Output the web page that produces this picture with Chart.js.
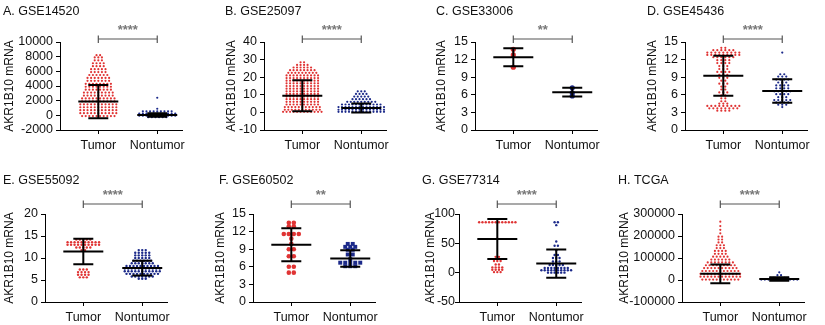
<!DOCTYPE html>
<html>
<head>
<meta charset="utf-8">
<script src="https://cdn.jsdelivr.net/npm/chart.js@4.4.0/dist/chart.umd.min.js"></script>
<style>
html, body { margin: 0; padding: 0; background: #fff; }
#fig { position: relative; width: 825px; height: 325px; overflow: hidden; }
#fig canvas { position: absolute; }
</style>
</head>
<body>
<div id="fig"></div>
<script>
// ---- data ----
const panelTitles = ["A. GSE14520", "B. GSE25097", "C. GSE33006", "D. GSE45436",
                     "E. GSE55092", "F. GSE60502", "G. GSE77314", "H. TCGA"];
const groupNames = ["Tumor", "Nontumor"];
const yAxisLabel = "AKR1B10 mRNA";
const yTickValues = [
    [-2000, 0, 2000, 4000, 6000, 8000, 10000],
    [-10, 0, 10, 20, 30, 40],
    [0, 3, 6, 9, 12, 15],
    [0, 3, 6, 9, 12, 15],
    [0, 5, 10, 15, 20],
    [0, 3, 6, 9, 12, 15],
    [-50, 0, 50, 100],
    [-100000, 0, 100000, 200000, 300000],
];
const significance = ["****", "****", "**", "****", "****", "**", "****", "****"];

// each row: [value, number of samples in that row of the dot plot]
const gse14520Tumor = [[8200,2],[7900,3],[7500,3],[7100,4],[6700,4],[6300,5],[5900,5],[5500,6],[5100,7],
    [4700,7],[4300,8],[3900,8],[3500,8],[3100,9],[2700,9],[2300,10],[1900,10],[1500,11],[1100,11],
    [700,11],[300,11],[-100,10]];
const gse14520Normal = [[2400,1],[900,1],[550,9],[250,11],[-50,11],[-250,6]];
const gse25097Tumor = [[28.5,2],[27,4],[25.5,6],[24,8],[22.5,9],[21,10],[19.5,10],[18,10],[16.5,10],
    [15,10],[13.5,10],[12,10],[10.5,10],[9,10],[7.5,10],[6,10],[4.5,10],[3,11],[1.5,11],[0.3,12]];
const gse25097Normal = [[12,3],[10.5,4],[9,5],[7.5,6],[6,9],[4.5,12],[3,14],[1.5,14],[0.3,14]];
const gse33006Tumor = [[13.75,1],[12.8,1],[10.7,1]];
const gse33006Normal = [[7.2,1],[6.35,1],[5.8,1]];
const gse45436Tumor = [[14,2],[13.6,6],[13.2,9],[12.8,9],[12.4,6],[11.9,4],[11.4,4],[10.9,3],[10.4,3],
    [9.9,4],[9.4,3],[8.9,3],[8.4,2],[7.9,3],[7.4,2],[6.9,2],[6.4,3],[5.9,2],[5.4,2],[4.9,2],[4.5,3],
    [4.1,9],[3.7,8],[3.3,4]];
const gse45436Normal = [[13.2,1],[9.5,2],[9.1,3],[8.6,4],[8.1,3],[7.6,4],[7.1,4],[6.6,5],[6.1,4],[5.6,3],
    [5.1,5],[4.7,4],[4.3,3],[3.9,1]];
const gse55092Tumor = [[14.2,5],[13.6,10],[13,10],[12.4,5],[11.8,2],[7.4,3],[6.8,4],[6.2,4],[5.6,3]];
const gse55092Normal = [[11.8,3],[11.2,5],[10.6,5],[10,5],[9.4,6],[8.8,7],[8.2,10],[7.6,11],[7,11],
    [6.4,10],[5.8,7],[5.3,3]];
const gse60502Tumor = [[13.5,2],[12.9,2],[11.6,4],[10.8,1],[9.9,1],[9,2],[7.8,2],[6,2],[5,2]];
const gse60502Normal = [[9.9,2],[9.4,3],[8.9,2],[8.1,2],[7.3,1],[6.7,5],[6.1,3]];
const gse77314Tumor = [[86,12],[58,1],[27,2],[20,3],[14,2],[9,4],[5,4],[1,3]];
const gse77314Normal = [[86,2],[81,1],[53,1],[46,2],[38,1],[30,2],[25,3],[19,3],[13,5],[8,8],[4,10],[0,6]];
const tcgaTumor = [[265000,1],[245000,1],[228000,1],[212000,1],[197000,2],[184000,2],[171000,2],
    [158000,3],[145000,3],[132000,4],[119000,4],[106000,5],[93000,6],[80000,8],[67000,9],[54000,10],
    [41000,11],[28000,12],[15000,12],[2000,11]];
const tcgaNormal = [[35000,1],[22000,2],[10000,6],[2000,11]];

const tumorRows = [gse14520Tumor, gse25097Tumor, gse33006Tumor, gse45436Tumor,
                   gse55092Tumor, gse60502Tumor, gse77314Tumor, tcgaTumor];
const normalRows = [gse14520Normal, gse25097Normal, gse33006Normal, gse45436Normal,
                    gse55092Normal, gse60502Normal, gse77314Normal, tcgaNormal];
const tumorMean = [1880, 9.5, 12.4, 9.25, 11.5, 9.75, 57.5, 28000];
const tumorSD = [2270, 8.8, 1.55, 3.4, 2.9, 2.8, 34, 43000];
const normalMean = [50, 2.5, 6.45, 6.65, 7.7, 7.4, 15.5, 5000];
const normalSD = [250, 2.6, 0.75, 2.0, 1.7, 1.4, 24, 8000];

// ---- layout (pixels) ----
const panelBox = [
    { left: 0,   top: 0,   axisX: 60,  yTitleX: 10,  titleX: 3,   tickPad: 3 },
    { left: 205, top: 0,   axisX: 264, yTitleX: 232, titleX: 225, tickPad: 3 },
    { left: 410, top: 0,   axisX: 475, yTitleX: 442, titleX: 436, tickPad: 3 },
    { left: 615, top: 0,   axisX: 685, yTitleX: 653, titleX: 647, tickPad: 3 },
    { left: 0,   top: 160, axisX: 45,  yTitleX: 10,  titleX: 3,   tickPad: 3 },
    { left: 205, top: 160, axisX: 253, yTitleX: 221, titleX: 219, tickPad: 3 },
    { left: 410, top: 160, axisX: 459, yTitleX: 431, titleX: 422, tickPad: 0 },
    { left: 615, top: 160, axisX: 682, yTitleX: 625, titleX: 618, tickPad: 3 },
];
const markStyle = [
    { r: 1.1, gap: 3.6 }, { r: 1.1, gap: 3.5 }, { r: 2.6, gap: 6 }, { r: 1.1, gap: 4 },
    { r: 1.2, gap: 3.5 }, { r: 2.3, gap: 5, normalShape: 'rect', normalR: 2.8 },
    { r: 1.2, gap: 3.3 }, { r: 1.1, gap: 3.6 },
];

const FONT = "'Liberation Sans', Arial, sans-serif";
const RED = '#e03434', BLUE = '#1c2a8a';
const X_MIN = 0.35, X_MAX = 2.42, PLOT_W = 122, PLOT_H = 88, PAD_R = 20;
const UNIT_PX = PLOT_W / (X_MAX - X_MIN);

function swarm(rows, centre, gapPx) {
    const pts = [];
    rows.forEach(([v, n]) => {
        for (let i = 0; i < n; i++) {
            pts.push({ x: centre + (i - (n - 1) / 2) * gapPx / UNIT_PX, y: v });
        }
    });
    return pts;
}

// mean/SD bars, significance bracket and panel title
const decor = {
    id: 'decor',
    afterDatasetsDraw(chart, args, o) {
        const { ctx, chartArea: a, scales: { x, y } } = chart;
        ctx.save();
        ctx.strokeStyle = '#000';
        ctx.lineWidth = 2;
        [[o.mean[0], o.sd[0]], [o.mean[1], o.sd[1]]].forEach(([m, s], g) => {
            const cx = x.getPixelForValue(g + 1);
            const ym = y.getPixelForValue(m);
            const yt = y.getPixelForValue(m + s);
            const yb = y.getPixelForValue(m - s);
            ctx.beginPath();
            ctx.moveTo(cx - 20, ym); ctx.lineTo(cx + 20, ym);
            ctx.moveTo(cx - 10, yt); ctx.lineTo(cx + 10, yt);
            ctx.moveTo(cx - 10, yb); ctx.lineTo(cx + 10, yb);
            ctx.moveTo(cx, yt); ctx.lineTo(cx, yb);
            ctx.stroke();
        });

        const x1 = x.getPixelForValue(1), x2 = x.getPixelForValue(2);
        const by = a.top + o.bracketDy;
        ctx.strokeStyle = '#555';
        ctx.lineWidth = 1.2;
        ctx.beginPath();
        ctx.moveTo(x1, by); ctx.lineTo(x2, by);
        ctx.moveTo(x1, by - 3.5); ctx.lineTo(x1, by + 4);
        ctx.moveTo(x2, by - 3.5); ctx.lineTo(x2, by + 4);
        ctx.stroke();

        ctx.fillStyle = '#777';
        ctx.font = 'bold 13px ' + FONT;
        ctx.textAlign = 'center';
        ctx.textBaseline = 'middle';
        ctx.fillText(o.stars, (x1 + x2) / 2, a.top + o.starDy);

        ctx.fillStyle = '#111';
        ctx.font = '12.5px ' + FONT;
        ctx.textAlign = 'left';
        ctx.fillText(o.title, o.titleX, o.titleY);
        ctx.restore();
    }
};

const fig = document.getElementById('fig');

panelTitles.forEach((title, i) => {
    const box = panelBox[i];
    const style = markStyle[i];
    const topRow = box.top === 0;
    const rowH = topRow ? 160 : 165;
    const padTop = topRow ? 42 : 54;
    const axisW = box.axisX - box.left;
    const canvas = document.createElement('canvas');
    canvas.width = axisW + PLOT_W + PAD_R;
    canvas.height = rowH;
    canvas.style.left = box.left + 'px';
    canvas.style.top = box.top + 'px';
    fig.appendChild(canvas);

    const ticks = yTickValues[i];
    const tickFont = { family: FONT, size: 12.5 };

    new Chart(canvas, {
        type: 'scatter',
        data: {
            datasets: [
                {
                    label: groupNames[0],
                    data: swarm(tumorRows[i], 1, style.gap),
                    backgroundColor: RED,
                    borderWidth: 0,
                    pointRadius: style.r,
                },
                {
                    label: groupNames[1],
                    data: swarm(normalRows[i], 2, style.gap),
                    backgroundColor: BLUE,
                    borderWidth: 0,
                    pointStyle: style.normalShape || 'circle',
                    pointRadius: style.normalR || style.r,
                },
            ],
        },
        options: {
            responsive: false,
            animation: false,
            layout: { padding: { left: 0, top: padTop, right: PAD_R, bottom: 0 } },
            scales: {
                x: {
                    type: 'linear',
                    min: X_MIN,
                    max: X_MAX,
                    afterBuildTicks: (s) => { s.ticks = [{ value: 1 }, { value: 2 }]; },
                    afterFit: (s) => { s.height = rowH - padTop - PLOT_H; },
                    ticks: {
                        font: tickFont,
                        color: '#111',
                        padding: 4,
                        maxRotation: 0,
                        autoSkip: false,
                        callback: (v) => groupNames[Math.round(v) - 1],
                    },
                    grid: { drawOnChartArea: false, drawTicks: true, tickLength: 4, color: '#000' },
                    border: { display: true, color: '#000', width: 1 },
                },
                y: {
                    type: 'linear',
                    min: ticks[0],
                    max: ticks[ticks.length - 1],
                    afterBuildTicks: (s) => { s.ticks = ticks.map((v) => ({ value: v })); },
                    afterFit: (s) => { s.width = axisW; },
                    ticks: {
                        font: tickFont,
                        color: '#111',
                        padding: box.tickPad,
                        autoSkip: false,
                        callback: (v) => String(v),
                    },
                    grid: { drawOnChartArea: false, drawTicks: true, tickLength: 4, color: '#000' },
                    border: { display: true, color: '#000', width: 1 },
                    title: {
                        display: true,
                        text: yAxisLabel,
                        font: { family: FONT, size: 12 },
                        color: '#111',
                        padding: { top: box.yTitleX - box.left - 7.2, bottom: 0 },
                    },
                },
            },
            plugins: {
                legend: { display: false },
                tooltip: { enabled: false },
                decor: {
                    mean: [tumorMean[i], normalMean[i]],
                    sd: [tumorSD[i], normalSD[i]],
                    stars: significance[i],
                    title: title,
                    titleX: box.titleX - box.left,
                    titleY: topRow ? 12 : 21,
                    bracketDy: topRow ? -3 : -10,
                    starDy: topRow ? -12 : -19,
                },
            },
        },
        plugins: [decor],
    });
});
</script>
</body>
</html>
